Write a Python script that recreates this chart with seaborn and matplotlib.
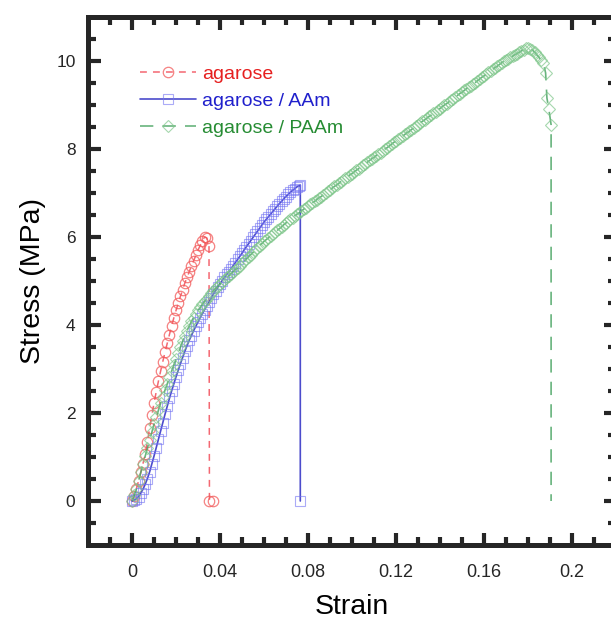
import numpy as np
import pandas as pd
import matplotlib
matplotlib.use("Agg")
import matplotlib.pyplot as plt
import seaborn as sns

# ---------------- data ----------------
agarose_strain = [0.000, 0.001, 0.002, 0.003, 0.004, 0.005, 0.006, 0.007, 0.008, 0.009,
                  0.010, 0.011, 0.012, 0.013, 0.014, 0.015, 0.016, 0.017, 0.018, 0.019,
                  0.020, 0.021, 0.022, 0.023, 0.024, 0.025, 0.026, 0.027, 0.028, 0.029,
                  0.030, 0.031, 0.032, 0.033, 0.034, 0.035, 0.0352, 0.0368]
agarose_stress = [0.00, 0.12, 0.28, 0.46, 0.65, 0.85, 1.07, 1.35, 1.65, 1.95,
                  2.22, 2.48, 2.72, 2.95, 3.17, 3.38, 3.58, 3.78, 3.97, 4.16,
                  4.33, 4.49, 4.65, 4.80, 4.95, 5.08, 5.21, 5.34, 5.46, 5.58,
                  5.70, 5.81, 5.92, 6.00, 5.98, 5.80, 0.00, 0.00]

aam_strain = [0.000, 0.001, 0.002, 0.003, 0.004, 0.005, 0.006, 0.007, 0.008, 0.009,
              0.010, 0.011, 0.012, 0.013, 0.014, 0.015, 0.016, 0.017, 0.018, 0.019,
              0.020, 0.021, 0.022, 0.023, 0.024, 0.025, 0.026, 0.027, 0.028, 0.029,
              0.030, 0.031, 0.032, 0.033, 0.034, 0.035, 0.036, 0.037, 0.038, 0.039,
              0.040, 0.041, 0.042, 0.043, 0.044, 0.045, 0.046, 0.047, 0.048, 0.049,
              0.050, 0.051, 0.052, 0.053, 0.054, 0.055, 0.056, 0.057, 0.058, 0.059,
              0.060, 0.061, 0.062, 0.063, 0.064, 0.065, 0.066, 0.067, 0.068, 0.069,
              0.070, 0.071, 0.072, 0.073, 0.074, 0.075, 0.076, 0.0765, 0.0765]
aam_stress = [0.00, 0.02, 0.05, 0.10, 0.18, 0.27, 0.38, 0.51, 0.66, 0.84,
              1.02, 1.21, 1.40, 1.59, 1.78, 1.97, 2.15, 2.33, 2.50, 2.66,
              2.82, 2.97, 3.12, 3.26, 3.40, 3.53, 3.65, 3.76, 3.87, 3.97,
              4.07, 4.17, 4.26, 4.35, 4.44, 4.53, 4.61, 4.70, 4.78, 4.86,
              4.94, 5.01, 5.08, 5.15, 5.21, 5.28, 5.35, 5.42, 5.49, 5.56,
              5.63, 5.71, 5.78, 5.85, 5.92, 5.99, 6.06, 6.13, 6.20, 6.27,
              6.34, 6.40, 6.46, 6.52, 6.58, 6.64, 6.70, 6.76, 6.81, 6.87,
              6.92, 6.97, 7.02, 7.06, 7.10, 7.14, 7.17, 7.18, 0.00]

paam_strain = [0.000, 0.001, 0.002, 0.003, 0.004, 0.005, 0.006, 0.007, 0.008, 0.009,
               0.010, 0.011, 0.012, 0.013, 0.014, 0.015, 0.016, 0.017, 0.018, 0.019,
               0.020, 0.021, 0.022, 0.023, 0.024, 0.025, 0.026, 0.027, 0.028, 0.029,
               0.030, 0.031, 0.032, 0.033, 0.034, 0.035, 0.036, 0.037, 0.038, 0.039,
               0.040, 0.041, 0.042, 0.043, 0.044, 0.045, 0.046, 0.047, 0.048, 0.049,
               0.050, 0.051, 0.052, 0.053, 0.054, 0.055, 0.056, 0.057, 0.058, 0.059,
               0.060, 0.061, 0.062, 0.063, 0.064, 0.065, 0.066, 0.067, 0.068, 0.069,
               0.070, 0.071, 0.072, 0.073, 0.074, 0.075, 0.076, 0.077, 0.078, 0.079,
               0.080, 0.081, 0.082, 0.083, 0.084, 0.085, 0.086, 0.087, 0.088, 0.089,
               0.090, 0.091, 0.092, 0.093, 0.094, 0.095, 0.096, 0.097, 0.098, 0.099,
               0.100, 0.101, 0.102, 0.103, 0.104, 0.105, 0.106, 0.107, 0.108, 0.109,
               0.110, 0.111, 0.112, 0.113, 0.114, 0.115, 0.116, 0.117, 0.118, 0.119,
               0.120, 0.121, 0.122, 0.123, 0.124, 0.125, 0.126, 0.127, 0.128, 0.129,
               0.130, 0.131, 0.132, 0.133, 0.134, 0.135, 0.136, 0.137, 0.138, 0.139,
               0.140, 0.141, 0.142, 0.143, 0.144, 0.145, 0.146, 0.147, 0.148, 0.149,
               0.150, 0.151, 0.152, 0.153, 0.154, 0.155, 0.156, 0.157, 0.158, 0.159,
               0.160, 0.161, 0.162, 0.163, 0.164, 0.165, 0.166, 0.167, 0.168, 0.169,
               0.170, 0.171, 0.172, 0.173, 0.174, 0.175, 0.176, 0.177, 0.178, 0.179,
               0.180, 0.181, 0.182, 0.183, 0.184, 0.185, 0.186, 0.187, 0.188, 0.1886,
               0.1895, 0.1905, 0.1905]
paam_stress = [0.00, 0.13, 0.28, 0.46, 0.65, 0.83, 1.02, 1.20, 1.38, 1.56,
               1.74, 1.90, 2.06, 2.22, 2.37, 2.52, 2.66, 2.81, 2.95, 3.09,
               3.22, 3.36, 3.50, 3.63, 3.76, 3.87, 3.98, 4.08, 4.17, 4.25,
               4.33, 4.40, 4.47, 4.54, 4.60, 4.66, 4.72, 4.78, 4.83, 4.88,
               4.93, 4.98, 5.03, 5.08, 5.12, 5.17, 5.21, 5.26, 5.30, 5.35,
               5.40, 5.45, 5.50, 5.55, 5.60, 5.65, 5.70, 5.75, 5.80, 5.85,
               5.90, 5.94, 5.98, 6.03, 6.07, 6.11, 6.15, 6.19, 6.23, 6.28,
               6.32, 6.36, 6.40, 6.44, 6.48, 6.52, 6.55, 6.59, 6.63, 6.67,
               6.70, 6.74, 6.78, 6.81, 6.85, 6.89, 6.92, 6.96, 7.00, 7.04,
               7.07, 7.11, 7.15, 7.18, 7.22, 7.26, 7.29, 7.33, 7.37, 7.41,
               7.44, 7.48, 7.52, 7.55, 7.59, 7.63, 7.66, 7.70, 7.74, 7.78,
               7.81, 7.85, 7.89, 7.92, 7.96, 8.00, 8.03, 8.07, 8.11, 8.15,
               8.18, 8.22, 8.26, 8.29, 8.33, 8.37, 8.40, 8.44, 8.48, 8.52,
               8.55, 8.59, 8.63, 8.66, 8.70, 8.74, 8.77, 8.81, 8.85, 8.89,
               8.92, 8.96, 9.00, 9.03, 9.07, 9.11, 9.14, 9.18, 9.22, 9.26,
               9.29, 9.33, 9.37, 9.40, 9.44, 9.48, 9.51, 9.55, 9.59, 9.63,
               9.66, 9.70, 9.74, 9.77, 9.81, 9.85, 9.88, 9.92, 9.96, 9.99,
               10.02, 10.05, 10.08, 10.11, 10.14, 10.17, 10.20, 10.23, 10.26, 10.29,
               10.30, 10.28, 10.25, 10.20, 10.14, 10.08, 10.02, 9.95, 9.73, 9.16,
               8.90, 8.55, 0.00]

labels = ["agarose", "agarose / AAm", "agarose / PAAm"]
x_ticks = [0, 0.04, 0.08, 0.12, 0.16, 0.2]
x_tick_labels = ["0", "0.04", "0.08", "0.12", "0.16", "0.2"]
y_ticks = [0, 2, 4, 6, 8, 10]

# ---------------- style ----------------
sns.set_theme(style="ticks")
plt.rcParams["font.family"] = ["Liberation Sans", "DejaVu Sans"]

fig = plt.figure(figsize=(6.11, 6.19), dpi=100)
ax = fig.add_axes([88 / 611, 74 / 619, 528 / 611, 528 / 619])

df_a = pd.DataFrame({"strain": agarose_strain, "stress": agarose_stress})
df_b = pd.DataFrame({"strain": aam_strain, "stress": aam_stress})
df_c = pd.DataFrame({"strain": paam_strain, "stress": paam_stress})

red_line = (0.95, 0.30, 0.35, 0.85)
red_mk = (0.95, 0.35, 0.35, 0.75)
blue_line = (0.22, 0.22, 0.78, 0.9)
blue_mk = (0.45, 0.45, 0.95, 0.6)
green_line = (0.30, 0.65, 0.40, 0.85)
green_mk = (0.50, 0.78, 0.55, 0.7)

sns.lineplot(data=df_a, x="strain", y="stress", ax=ax, sort=False, estimator=None,
             color=red_line, linewidth=1.1, linestyle=(0, (4.5, 4)),
             marker="o", markersize=7.5, markerfacecolor="none", markeredgecolor=red_mk,
             markeredgewidth=0.9, label=labels[0])
sns.lineplot(data=df_b, x="strain", y="stress", ax=ax, sort=False, estimator=None,
             color=blue_line, linewidth=1.2, marker="s", markersize=6.5,
             markerfacecolor="none", markeredgecolor=blue_mk, markeredgewidth=0.8,
             label=labels[1])
sns.lineplot(data=df_c, x="strain", y="stress", ax=ax, sort=False, estimator=None,
             color=green_line, linewidth=1.2, linestyle=(0, (8, 5.5)),
             marker="D", markersize=6, markerfacecolor="none", markeredgecolor=green_mk,
             markeredgewidth=0.8, label=labels[2],
             markevery=list(range(len(paam_strain) - 1)))

ax.set_xlim(-0.02, 0.22)
ax.set_ylim(-1, 11)
ax.set_xticks(x_ticks)
ax.set_xticklabels(x_tick_labels)
ax.set_yticks(y_ticks)
ax.set_xticks(np.arange(-0.01, 0.22, 0.01), minor=True)
ax.set_yticks(np.arange(-0.5, 11, 0.5), minor=True)

dark = (0.15, 0.15, 0.15)
for sp in ax.spines.values():
    sp.set_linewidth(3.6)
    sp.set_color(dark)
    sp.set_visible(True)

ax.tick_params(which="both", direction="in", top=True, right=True, color=dark)
ax.tick_params(which="major", length=9, width=3)
ax.tick_params(which="minor", length=5.5, width=3)
ax.tick_params(axis="x", which="major", labelsize=13, pad=14, labelcolor=(0.15, 0.15, 0.15))
ax.tick_params(axis="y", which="major", labelsize=12.5, pad=9, labelcolor=(0.15, 0.15, 0.15))

ax.set_xlabel("Strain", fontsize=20.5, labelpad=9, color="black")
ax.set_ylabel("Stress (MPa)", fontsize=20.5, labelpad=7, color="black")
ax.grid(False)
ax.set_facecolor("white")

leg = ax.legend(loc="upper left", bbox_to_anchor=(0.098, 0.908), frameon=False,
                fontsize=14, handlelength=2.9, handletextpad=0.3, labelspacing=0.48,
                borderaxespad=0, borderpad=0, numpoints=1)
for txt, col in zip(leg.get_texts(), [(0.90, 0.12, 0.12), (0.12, 0.12, 0.80), (0.15, 0.55, 0.20)]):
    txt.set_color(col)

fig.savefig("out.png", dpi=100)
